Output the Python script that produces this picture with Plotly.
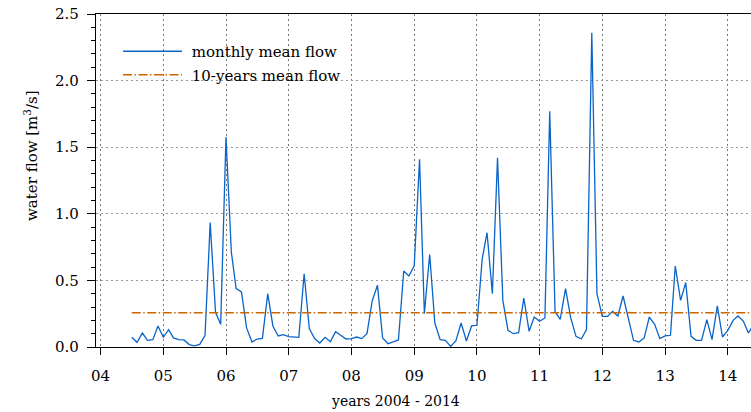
import pandas as pd
import plotly.graph_objects as go

# monthly mean flow, July 2004 - June 2014 [m^3/s]
months = pd.date_range("2004-07-01", periods=120, freq="MS")
flow = [
    0.073, 0.035, 0.105, 0.05, 0.055, 0.158, 0.073, 0.13, 0.068, 0.055, 0.053, 0.018,
    0.008, 0.02, 0.088, 0.934, 0.26, 0.17, 1.577, 0.713, 0.438, 0.413, 0.143, 0.038,
    0.06, 0.065, 0.40, 0.158, 0.083, 0.093, 0.078, 0.078, 0.073, 0.55, 0.138, 0.063,
    0.03, 0.073, 0.04, 0.115, 0.088, 0.06, 0.063, 0.075, 0.063, 0.10, 0.345, 0.463,
    0.068, 0.025, 0.038, 0.053, 0.57, 0.533, 0.61, 1.41, 0.25, 0.694, 0.18, 0.055,
    0.05, 0.005, 0.048, 0.18, 0.045, 0.158, 0.163, 0.663, 0.858, 0.40, 1.42, 0.35,
    0.125, 0.10, 0.108, 0.368, 0.118, 0.225, 0.193, 0.218, 1.77, 0.265, 0.208, 0.438,
    0.22, 0.08, 0.06, 0.13, 2.36, 0.40, 0.23, 0.23, 0.268, 0.233, 0.383, 0.218,
    0.05, 0.038, 0.068, 0.225, 0.17, 0.063, 0.083, 0.088, 0.608, 0.35, 0.483, 0.08,
    0.05, 0.05, 0.205, 0.055, 0.308, 0.075, 0.125, 0.20, 0.233, 0.195, 0.105, 0.17,
]
mean_flow = 0.258
year_ticks = pd.date_range("2004-01-01", periods=11, freq="YS")
year_labels = ["04", "05", "06", "07", "08", "09", "10", "11", "12", "13", "14"]
y_ticks = [0.0, 0.5, 1.0, 1.5, 2.0, 2.5]

FONT = "DejaVu Serif"
W, H = 751, 412
L, R, T, B = 96, 0, 14, 65

fig = go.Figure()
fig.add_trace(go.Scatter(
    x=months, y=flow, mode="lines", name="\u00a0monthly mean flow",
    line=dict(color="#0a64c8", width=1.3), legendgroup="a",
))
fig.add_trace(go.Scatter(
    x=[months[0], months[-1]], y=[mean_flow, mean_flow], mode="lines",
    name="\u00a010-years mean flow",
    line=dict(color="#cc6600", width=1.5, dash="9px,2.5px,1.5px,2.5px"),
    legendgroup="b",
))

pw = W - L - R
ph = H - T - B
fig.add_shape(type="rect", xref="paper", yref="paper",
              x0=(110 - L) / pw, x1=(357 - L) / pw,
              y0=(H - B - 100) / ph, y1=(H - B - 27) / ph,
              fillcolor="white", line=dict(width=0), layer="between")

fig.update_layout(
    width=W, height=H, margin=dict(l=L, r=R, t=T, b=B),
    paper_bgcolor="white", plot_bgcolor="white",
    font=dict(family=FONT, size=15, color="black"),
    showlegend=True,
    legend=dict(x=(118 - L) / pw, y=(H - B - 35) / ph, xanchor="left", yanchor="top",
                bgcolor="rgba(0,0,0,0)", borderwidth=0, itemwidth=59,
                traceorder="grouped", tracegroupgap=1,
                font=dict(family=FONT, size=15)),
)
fig.update_xaxes(
    type="date",
    range=["2003-12-06", "2014-05-16"],
    tickvals=year_ticks, ticktext=year_labels,
    ticks="outside", ticklen=7, tickwidth=1, tickcolor="black",
    ticklabelstandoff=8,
    showline=True, linecolor="black", linewidth=1.3, mirror=True,
    showgrid=True, gridcolor="#777", griddash="2px,3px", gridwidth=1,
    zeroline=False,
)
fig.update_yaxes(
    range=[0, 2.5], tickvals=y_ticks, tickformat=".1f",
    ticks="outside", ticklen=8, tickwidth=1, tickcolor="black",
    ticklabelstandoff=5,
    minor=dict(dtick=0.1, ticks="outside", ticklen=4, tickcolor="black", showgrid=False),
    showline=True, linecolor="black", linewidth=1.3, mirror=False,
    showgrid=True, gridcolor="#999", griddash="2px,3px", gridwidth=1,
    zeroline=False,
)
fig.add_annotation(text="years 2004 - 2014", xref="paper", yref="paper",
                   x=(395 - L) / pw, y=(H - B - 401) / ph, showarrow=False,
                   font=dict(family=FONT, size=14), xanchor="center", yanchor="middle")
fig.add_annotation(text="water flow [m<sup>3</sup>/s]", xref="paper", yref="paper",
                   x=(31 - L) / pw, y=(H - B - 156) / ph, showarrow=False, textangle=-90,
                   font=dict(family=FONT, size=15), xanchor="center", yanchor="middle")

fig.write_html("out.html")
